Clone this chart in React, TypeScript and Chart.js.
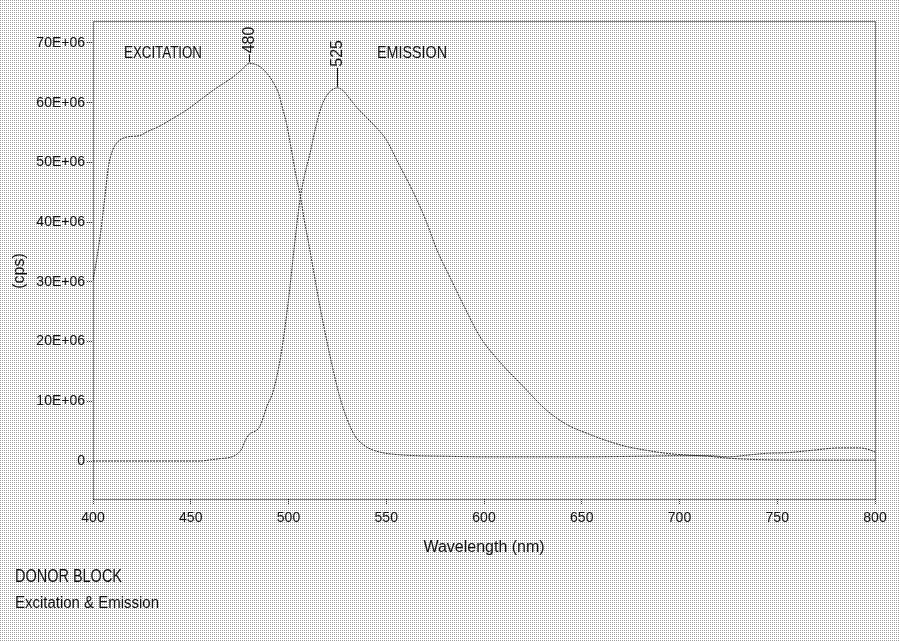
import React, { useEffect, useRef } from 'react';
import { Chart, registerables } from 'chart.js';

Chart.register(...registerables);

// Values in units of 1E+06 cps
const excitationWavelengths = [400, 402, 404, 406, 408, 410, 412, 415, 418, 424, 428, 433, 440, 448, 455, 462, 468, 472, 476, 480, 484, 487, 490, 492, 495, 497, 499, 501, 504, 506, 508, 510, 513, 516, 520, 523, 526, 530, 534, 538, 542, 548, 555, 565, 580, 600, 620, 650, 680, 700, 715, 725, 735, 745, 755, 768, 782, 792, 797, 800];
const excitationValues = [30.3, 34, 38.5, 44, 49.5, 52, 53.2, 54, 54.3, 54.5, 55.2, 55.9, 57.2, 58.8, 60.5, 62.2, 63.5, 64.4, 65.5, 66.6, 66.3, 65.6, 64.5, 63.5, 61.5, 59, 56.5, 53, 47.5, 44.5, 40.5, 37, 31.5, 26, 19.5, 15, 11, 7, 4.2, 2.8, 2.0, 1.4, 1.1, 0.9, 0.8, 0.7, 0.7, 0.7, 0.8, 0.9, 0.9, 0.7, 1.0, 1.3, 1.4, 1.8, 2.2, 2.2, 1.9, 1.5];

const emissionWavelengths = [400, 420, 440, 455, 460, 465, 470, 473, 476, 478, 480, 483, 485, 487, 489, 492, 496, 500, 503, 506, 508, 511, 514, 517, 520, 523, 525, 528, 531, 535, 540, 545, 550, 556, 564, 570, 576, 583, 590, 598, 607, 620, 632, 643, 653, 662, 672, 683, 693, 704, 715, 724, 735, 745, 760, 780, 800];
const emissionValues = [0, 0, 0, 0, 0.2, 0.4, 0.6, 1.0, 2.0, 3.5, 4.5, 5.0, 5.6, 7.2, 9.2, 11.5, 17.5, 27, 36, 44, 47.5, 51.5, 56, 59.5, 61.4, 62.3, 62.5, 62.0, 60.8, 59.2, 57.5, 55.8, 53.8, 50, 44.9, 40.5, 35.3, 30.5, 25.8, 20.8, 17.0, 12.5, 8.5, 6.0, 4.6, 3.5, 2.5, 1.8, 1.3, 1.0, 0.8, 0.5, 0.3, 0.2, 0.15, 0.15, 0.15];

const yTickValues = [0, 10, 20, 30, 40, 50, 60, 70];
const yTickLabels = ['0', '10E+06', '20E+06', '30E+06', '40E+06', '50E+06', '60E+06', '70E+06'];
const xTickValues = [400, 450, 500, 550, 600, 650, 700, 750, 800];
const xTickLabels = ['400', '450', '500', '550', '600', '650', '700', '750', '800'];

const peakLabels = ['480', '525'];
const peakWavelengths = [480, 525];
const peakValues = [66.6, 62.5];
const seriesLabels = ['EXCITATION', 'EMISSION'];
const axisTitleX = 'Wavelength (nm)';
const axisTitleY = '(cps)';
const footLines = ['DONOR BLOCK', 'Excitation & Emission'];

const X_MIN = 400;
const X_MAX = 800;
const Y_MIN = -6.36;
const Y_MAX = 73.68;

const FONT = '"Liberation Sans", Arial, sans-serif';

function fitText(ctx: CanvasRenderingContext2D, text: string, x: number, y: number, size: number, maxW: number) {
  ctx.font = `${size}px ${FONT}`;
  ctx.fillText(text, x, y, maxW);
}

const bgPlugin = {
  id: 'bgPattern',
  beforeDraw(chart: any) {
    const ctx = chart.ctx as CanvasRenderingContext2D;
    const off = document.createElement('canvas');
    off.width = 2;
    off.height = 2;
    const o = off.getContext('2d')!;
    o.fillStyle = '#ffffff';
    o.fillRect(0, 0, 2, 2);
    o.fillStyle = '#9c9c9c';
    o.fillRect(0, 0, 1, 1);
    const pat = ctx.createPattern(off, 'repeat');
    ctx.save();
    if (pat) ctx.fillStyle = pat;
    ctx.fillRect(0, 0, chart.width, chart.height);
    ctx.restore();
  },
};

const decorPlugin = {
  id: 'decor',
  afterDraw(chart: any) {
    const ctx = chart.ctx as CanvasRenderingContext2D;
    const { left, right, top, bottom } = chart.chartArea;
    const xs = chart.scales.x;
    const ys = chart.scales.y;
    ctx.save();
    // dotted frame
    ctx.strokeStyle = '#000';
    ctx.lineWidth = 1;
    ctx.setLineDash([1, 1]);
    ctx.strokeRect(Math.round(left) + 0.5, Math.round(top) + 0.5, Math.round(right - left), Math.round(bottom - top));
    ctx.setLineDash([]);

    ctx.fillStyle = '#111';
    ctx.textBaseline = 'middle';
    ctx.textAlign = 'left';
    // series labels
    fitText(ctx, seriesLabels[0], 124, 53, 17, 78);
    fitText(ctx, seriesLabels[1], 377, 53, 17, 70);

    // peak labels
    const gaps = [9, 20];
    peakLabels.forEach((lab, i) => {
      const px = Math.round(xs.getPixelForValue(peakWavelengths[i])) + 0.5;
      const py = ys.getPixelForValue(peakValues[i]);
      ctx.strokeStyle = '#111';
      ctx.beginPath();
      ctx.moveTo(px, py - 1);
      ctx.lineTo(px, py - gaps[i]);
      ctx.stroke();
      ctx.save();
      ctx.translate(px, py - gaps[i] - 1);
      ctx.rotate(-Math.PI / 2);
      ctx.textAlign = 'left';
      ctx.textBaseline = 'middle';
      fitText(ctx, lab, 0, 0, 16, 27);
      ctx.restore();
    });

    // axis titles
    ctx.textAlign = 'center';
    fitText(ctx, axisTitleX, (left + right) / 2, 548, 16, 122);
    ctx.save();
    ctx.translate(20, 271);
    ctx.rotate(-Math.PI / 2);
    fitText(ctx, axisTitleY, 0, 0, 16, 38);
    ctx.restore();

    // footnote
    ctx.textAlign = 'left';
    fitText(ctx, footLines[0], 15, 577, 18, 107);
    fitText(ctx, footLines[1], 15, 604, 16, 144);
    ctx.restore();
  },
};

export default function App() {
  const ref = useRef<HTMLCanvasElement | null>(null);
  useEffect(() => {
    if (!ref.current) return;
    const tickFont = { family: FONT, size: 14 };
    const chart = new Chart(ref.current, {
      type: 'line',
      data: {
        datasets: [
          {
            label: seriesLabels[0],
            data: excitationWavelengths.map((w, i) => ({ x: w, y: excitationValues[i] })),
            borderColor: '#2a2a2a',
            borderWidth: 1,
            borderDash: [2, 1],
            pointRadius: 0,
            cubicInterpolationMode: 'monotone',
            fill: false,
          },
          {
            label: seriesLabels[1],
            data: emissionWavelengths.map((w, i) => ({ x: w, y: emissionValues[i] })),
            borderColor: '#2a2a2a',
            borderWidth: 1,
            borderDash: [2, 1],
            pointRadius: 0,
            cubicInterpolationMode: 'monotone',
            fill: false,
          },
        ],
      },
      options: {
        animation: false,
        responsive: false,
        maintainAspectRatio: false,
        layout: { padding: { top: 21, right: 24, left: 0, bottom: 0 } },
        plugins: {
          legend: { display: false },
          tooltip: { enabled: false },
          title: { display: false },
        },
        scales: {
          x: {
            type: 'linear',
            min: X_MIN,
            max: X_MAX,
            afterFit: (s: any) => {
              s.height = 142;
            },
            afterBuildTicks: (s: any) => {
              s.ticks = xTickValues.map((v) => ({ value: v }));
            },
            ticks: {
              font: tickFont,
              color: '#111',
              padding: 6,
              maxRotation: 0,
              autoSkip: false,
              callback: (v: any) => xTickLabels[xTickValues.indexOf(Number(v))],
            },
            grid: {
              drawOnChartArea: false,
              drawTicks: true,
              tickLength: 5,
              tickColor: '#333',
              tickBorderDash: [1, 1],
            },
            border: { display: false },
          },
          y: {
            type: 'linear',
            min: Y_MIN,
            max: Y_MAX,
            afterFit: (s: any) => {
              s.width = 93;
            },
            afterBuildTicks: (s: any) => {
              s.ticks = yTickValues.map((v) => ({ value: v }));
            },
            ticks: {
              font: tickFont,
              color: '#111',
              padding: 2,
              autoSkip: false,
              callback: (v: any) => yTickLabels[yTickValues.indexOf(Number(v))],
            },
            grid: {
              drawOnChartArea: false,
              drawTicks: true,
              tickLength: 6,
              tickColor: '#333',
              tickBorderDash: [1, 1],
            },
            border: { display: false },
          },
        },
      },
      plugins: [bgPlugin, decorPlugin],
    } as any);
    return () => chart.destroy();
  }, []);

  return (
    <div style={{ position: 'fixed', left: 0, top: 0, width: 899, height: 641 }}>
      <canvas ref={ref} width={899} height={641} style={{ display: 'block', width: 899, height: 641 }} />
    </div>
  );
}
